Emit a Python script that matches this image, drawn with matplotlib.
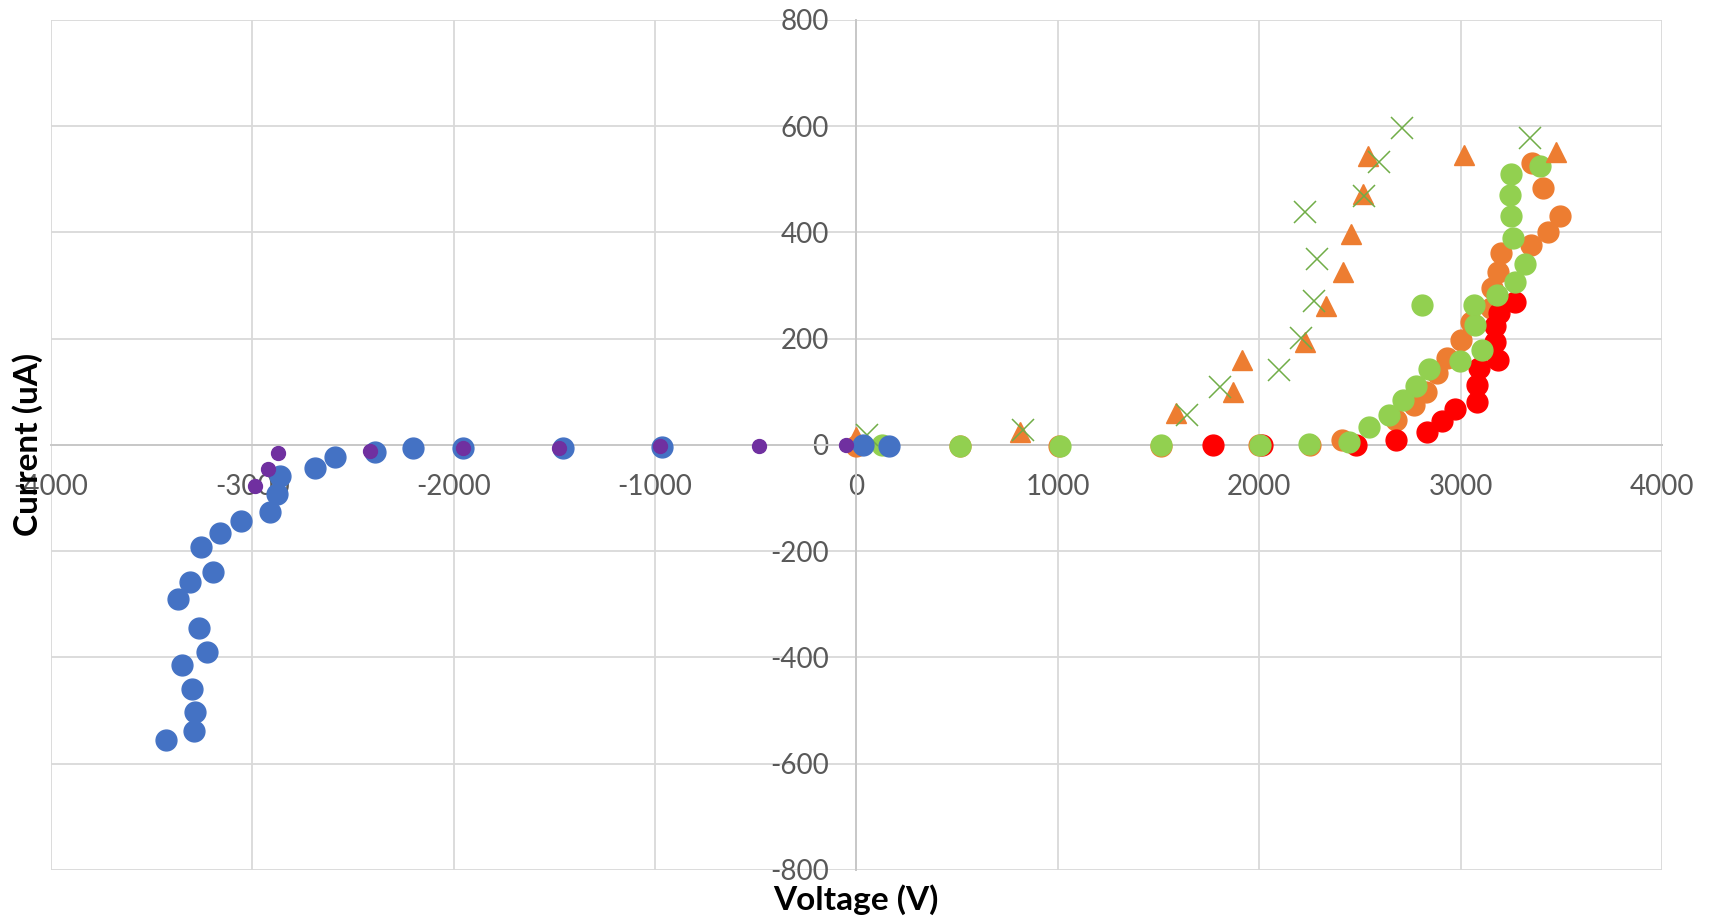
import matplotlib
matplotlib.use("Agg")
import matplotlib.pyplot as plt

# Data (Voltage in V, Current in uA)
blueV = [-3431, -3292, -3287, -3302, -3347, -3223, -3267, -3371, -3312, -3193, -3257, -3163,
         -3054, -2911, -2876, -2861, -2688, -2589, -2393, -2200, -1956, -1456, -967, 33, 160]
blueI = [-556, -539, -503, -459, -414, -390, -344, -290, -259, -239, -192, -165,
         -144, -127, -93, -59, -44, -22, -13, -6, -6, -6, -4, -1, -3]

purpleV = [-2985, -2921, -2871, -2416, -1956, -1478, -978, -482, -50]
purpleI = [-78, -46, -16, -11, -6, -5, -3, -2, 0]

redV = [1769, 2015, 2482, 2678, 2832, 2910, 2970, 3083, 3083, 3091, 3185, 3173, 3173, 3190, 3272]
redI = [-1, -1, -1, 9, 25, 44, 67, 80, 113, 144, 160, 194, 223, 248, 268]

orangeV = [0, 512, 1007, 1512, 2000, 2250, 2413, 2678, 2769, 2827, 2884, 2934, 3000, 3050,
           3149, 3157, 3185, 3201, 3350, 3432, 3495, 3409, 3355]
orangeI = [-3, -2, -2, -2, -1, -1, 10, 47, 75, 100, 135, 163, 198, 232,
           257, 295, 326, 361, 376, 401, 431, 483, 530]

greenV = [125, 515, 1010, 1514, 2005, 2248, 2446, 2545, 2645, 2716, 2777, 2843, 2997, 2810,
          3066, 3074, 3107, 3182, 3272, 3322, 3261, 3248, 3244, 3252, 3393]
greenI = [0, -2, -2, -1, -1, 1, 6, 33, 56, 85, 110, 142, 157, 263,
          263, 226, 179, 282, 307, 340, 389, 431, 470, 510, 525]

triV = [0, 812, 1589, 1868, 1917, 2225, 2333, 2414, 2455, 2513, 2540, 3016, 3475]
triI = [15, 25, 60, 99, 159, 194, 262, 326, 397, 472, 543, 546, 552]

crossV = [53, 827, 1640, 1805, 2099, 2207, 2270, 2288, 2228, 2522, 2594, 2711, 3346]
crossI = [19, 28, 56, 108, 140, 201, 270, 350, 438, 469, 532, 596, 577]

xTicks = [-4000, -3000, -2000, -1000, 0, 1000, 2000, 3000, 4000]
yTicks = [-800, -600, -400, -200, 0, 200, 400, 600, 800]

plt.rcParams['font.family'] = ['Lato', 'DejaVu Sans']


def main():
    fig = plt.figure(figsize=(17.16, 9.18), dpi=100)
    ax = fig.add_axes([0.0297, 0.0523, 0.9388, 0.9262])

    ms = 15
    ax.plot(orangeV, orangeI, 'o', color='#ED7D31', ms=ms, zorder=3)
    ax.plot(redV, redI, 'o', color='#FF0000', ms=ms, zorder=4)
    ax.plot(greenV, greenI, 'o', color='#92D050', ms=ms, zorder=5)
    ax.plot(triV, triI, '^', color='#ED7D31', ms=15, zorder=6)
    ax.plot(crossV, crossI, 'x', color='#70AD47', ms=16.5, mew=1.1, zorder=7)
    ax.plot(blueV, blueI, 'o', color='#4472C4', ms=ms, zorder=8)
    ax.plot(purpleV, purpleI, 'o', color='#7030A0', ms=10, zorder=9)

    ax.set_xlim(-4000, 4000)
    ax.set_ylim(-800, 800)
    ax.set_xticks(xTicks)
    ax.set_yticks(yTicks)
    ax.set_xticklabels([str(t) for t in xTicks])
    ax.set_yticklabels([str(t) for t in yTicks])

    ax.grid(True, color='#D9D9D9', linewidth=1.3, zorder=0)
    ax.set_axisbelow(True)

    for side in ['top', 'right']:
        ax.spines[side].set_visible(False)
    ax.spines['left'].set_position('zero')
    ax.spines['bottom'].set_position('zero')
    for side in ['left', 'bottom']:
        ax.spines[side].set_color('#C8C8C8')
        ax.spines[side].set_linewidth(1.4)
        ax.spines[side].set_zorder(1)

    ax.tick_params(axis='both', length=0, labelsize=20, labelcolor='#595959')
    ax.tick_params(axis='y', pad=20)
    ax.tick_params(axis='x', pad=21)

    fig.text(856 / 1716, 1 - 900 / 918, "Voltage (V)", ha='center', va='center',
             fontsize=24, fontweight='bold', color='black')
    fig.text(28 / 1716, 1 - 444 / 918, "Current (uA)", ha='center', va='center',
             rotation=90, fontsize=24, fontweight='bold', color='black')

    fig.savefig("out.png", dpi=100)


main()
